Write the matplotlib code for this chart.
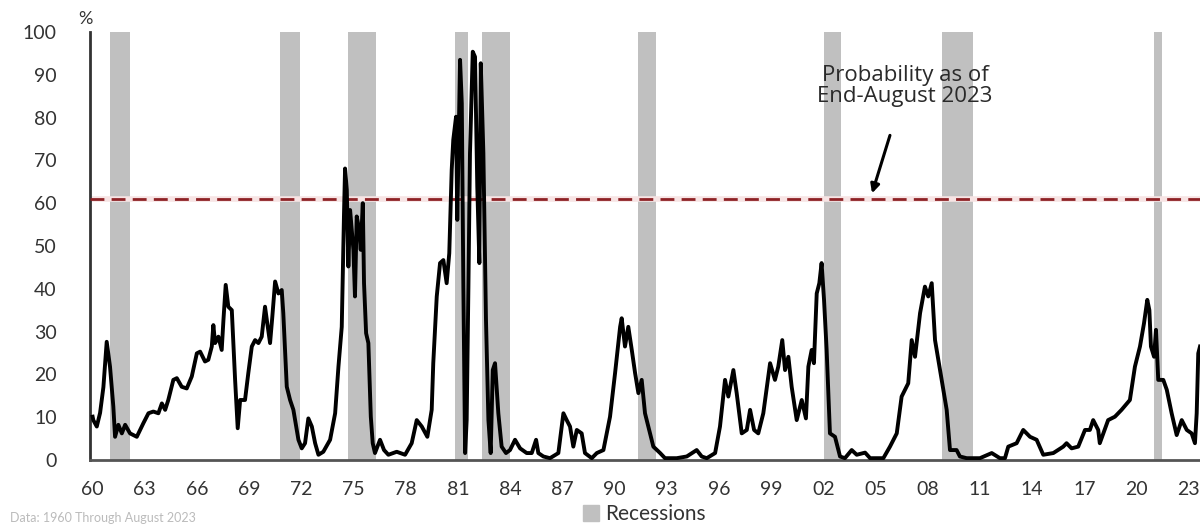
import matplotlib
matplotlib.use("Agg")
import matplotlib.pyplot as plt
from matplotlib.patches import Patch

plt.rcParams['font.family'] = ['Lato', 'DejaVu Sans']

# recession probability (decimal year, %)
years = [1959.0, 1959.04, 1959.24, 1959.43, 1959.62, 1959.81, 1960.0, 1960.19, 1960.29, 1960.48,
         1960.68, 1960.87, 1961.15, 1961.54, 1961.92, 1962.21, 1962.49, 1962.78, 1962.98, 1963.17,
         1963.35, 1963.64, 1963.84, 1964.12, 1964.41, 1964.70, 1964.99, 1965.18, 1965.46, 1965.65,
         1965.85, 1965.94, 1966.04, 1966.23, 1966.42, 1966.52, 1966.65, 1966.80, 1967.0, 1967.19,
         1967.34, 1967.48, 1967.76, 1967.95, 1968.15, 1968.34, 1968.53, 1968.72, 1968.91, 1969.04,
         1969.20, 1969.33, 1969.49, 1969.68, 1969.87, 1969.96, 1970.16, 1970.35, 1970.54, 1970.83,
         1971.02, 1971.21, 1971.40, 1971.60, 1971.79, 1971.98, 1972.26, 1972.65, 1972.94, 1973.13,
         1973.32, 1973.45, 1973.51, 1973.61, 1973.70, 1973.80, 1973.99, 1974.08, 1974.18, 1974.33,
         1974.41, 1974.53, 1974.60, 1974.72, 1974.85, 1974.99, 1975.10, 1975.23, 1975.52, 1975.75,
         1976.0, 1976.48, 1976.96, 1977.34, 1977.63, 1977.92, 1978.24, 1978.49, 1978.58, 1978.78,
         1978.97, 1979.16, 1979.35, 1979.50, 1979.64, 1979.73, 1979.89, 1979.96, 1980.12, 1980.22,
         1980.31, 1980.41, 1980.50, 1980.60, 1980.69, 1980.85, 1980.98, 1981.11, 1981.23, 1981.31,
         1981.46, 1981.61, 1981.75, 1981.88, 1982.0, 1982.13, 1982.32, 1982.51, 1982.76, 1982.99,
         1983.28, 1983.57, 1983.95, 1984.24, 1984.49, 1984.62, 1984.91, 1985.29, 1985.77, 1986.06,
         1986.25, 1986.44, 1986.63, 1986.83, 1987.11, 1987.30, 1987.69, 1987.98, 1988.36, 1988.74,
         1989.03, 1989.32, 1989.41, 1989.60, 1989.79, 1989.99, 1990.18, 1990.37, 1990.56, 1990.75,
         1990.94, 1991.23, 1991.62, 1991.90, 1992.57, 1993.15, 1993.72, 1994.01, 1994.30, 1994.78,
         1995.06, 1995.35, 1995.54, 1995.83, 1996.02, 1996.31, 1996.60, 1996.79, 1997.02, 1997.26,
         1997.55, 1997.94, 1998.22, 1998.41, 1998.64, 1998.80, 1998.99, 1999.18, 1999.47, 1999.76,
         2000.0, 2000.14, 2000.33, 2000.46, 2000.62, 2000.77, 2000.90, 2001.04, 2001.19, 2001.38,
         2001.67, 2001.96, 2002.24, 2002.63, 2002.92, 2003.40, 2003.69, 2004.45, 2004.83, 2005.22,
         2005.50, 2005.88, 2006.08, 2006.27, 2006.56, 2006.84, 2007.03, 2007.23, 2007.42, 2007.61,
         2007.90, 2008.09, 2008.28, 2008.66, 2008.85, 2009.24, 2010.0, 2010.68, 2011.15, 2011.44,
         2011.63, 2012.11, 2012.49, 2012.88, 2013.26, 2013.64, 2014.22, 2014.79, 2014.98, 2015.27,
         2015.65, 2016.04, 2016.32, 2016.51, 2016.80, 2016.89, 2017.37, 2017.76, 2018.14, 2018.62,
         2018.91, 2019.20, 2019.43, 2019.62, 2019.74, 2019.83, 2020.01, 2020.12, 2020.25, 2020.54,
         2020.74, 2021.02, 2021.31, 2021.60, 2021.89, 2022.17, 2022.36, 2022.46, 2022.55, 2022.65]
prob = [10.1, 9.3, 7.8, 11.0, 17.0, 27.6, 21.8, 12.5, 5.4, 8.2,
        6.2, 8.2, 6.2, 5.4, 8.6, 10.9, 11.3, 10.9, 13.2, 11.7,
        14.0, 18.7, 19.1, 17.1, 16.7, 19.5, 24.9, 25.3, 23.0, 23.4,
        26.5, 31.5, 27.3, 28.8, 25.7, 32.7, 40.9, 35.8, 35.0, 18.7,
        7.4, 14.0, 14.0, 20.3, 26.5, 28.0, 27.3, 28.8, 35.8, 31.9,
        27.3, 33.5, 41.7, 38.9, 39.7, 34.3, 17.1, 14.0, 11.7, 4.7,
        2.7, 3.9, 9.7, 7.8, 3.9, 1.2, 1.9, 4.7, 10.9, 21.8,
        31.1, 57.6, 68.1, 63.1, 45.2, 58.4, 49.1, 38.2, 56.9, 53.7,
        49.1, 60.0, 41.3, 29.6, 27.3, 10.1, 3.9, 1.6, 4.7, 2.3,
        1.2, 1.9, 1.2, 3.9, 9.3, 7.8, 5.4, 11.7, 22.6, 38.2,
        46.0, 46.7, 41.3, 48.3, 67.8, 74.8, 80.2, 56.1, 93.5, 83.3,
        40.5, 1.6, 9.3, 40.5, 71.7, 95.4, 94.2, 63.9, 46.0, 92.7,
        71.7, 32.7, 9.3, 1.6, 21.0, 22.6, 10.9, 3.1, 1.6, 2.3,
        4.7, 2.7, 1.6, 1.6, 4.7, 1.6, 0.8, 0.4, 1.6, 10.9,
        9.3, 7.8, 3.1, 7.0, 6.2, 1.6, 0.4, 1.6, 2.3, 10.1,
        20.3, 31.1, 33.1, 26.5, 31.1, 25.7, 20.3, 15.6, 18.7, 10.9,
        7.8, 3.1, 1.6, 0.4, 0.4, 0.8, 2.3, 0.8, 0.4, 1.6,
        7.8, 18.7, 14.8, 21.0, 15.6, 6.2, 7.0, 11.7, 7.0, 6.2,
        10.9, 22.6, 18.7, 21.8, 28.0, 21.0, 24.1, 17.1, 9.3, 14.0,
        9.7, 21.8, 25.7, 22.6, 38.9, 41.3, 46.0, 37.4, 25.7, 6.2,
        5.4, 0.8, 0.4, 2.3, 1.2, 1.7, 0.4, 0.4, 3.1, 6.2,
        14.8, 17.9, 28.0, 24.1, 34.3, 40.5, 38.2, 41.3, 28.0, 23.4,
        16.4, 11.7, 2.3, 2.3, 0.8, 0.4, 0.4, 1.6, 0.4, 0.4,
        3.1, 3.9, 7.0, 5.4, 4.7, 1.2, 1.6, 3.1, 3.9, 2.7,
        3.1, 7.0, 7.0, 9.3, 7.0, 3.9, 9.3, 10.1, 11.7, 14.0,
        21.8, 26.5, 31.9, 37.4, 35.0, 26.5, 24.1, 30.4, 18.7, 18.7,
        16.4, 10.9, 5.8, 9.3, 7.0, 6.2, 3.9, 10.9, 24.9, 26.5]

rec_start = [1960.0, 1969.77, 1973.68, 1979.83, 1981.38, 1990.35, 2001.04, 2007.82, 2019.99]
rec_end = [1961.15, 1970.92, 1975.29, 1980.58, 1982.99, 1991.38, 2002.0, 2009.6, 2020.45]

tick_pos = [1959, 1962, 1965, 1968, 1971, 1974, 1977, 1980, 1983, 1986, 1989,
            1992, 1995, 1998, 2001, 2004, 2007, 2010, 2013, 2016, 2019, 2022]
tick_labels = ['60', '63', '66', '69', '72', '75', '78', '81', '84', '87', '90',
               '93', '96', '99', '02', '05', '08', '11', '14', '17', '20', '23']

current_prob = 61

fig = plt.figure(figsize=(12, 5.25), dpi=100)
ax = fig.add_axes([0.075, 0.124, 0.925, 0.815])

for s, e in zip(rec_start, rec_end):
    ax.axvspan(s, e, color='#c0c0c0', lw=0, zorder=1)

ax.axhline(current_prob, color='#f7e4e4', lw=4, zorder=2)
ax.axhline(current_prob, color='#8e2226', lw=2, ls=(0, (5, 2.6)), zorder=3)
ax.plot(years, prob, color='black', lw=2.8, zorder=4)

ax.set_xlim(1958.85, 2022.65)
ax.set_ylim(0, 100)
ax.set_yticks(range(0, 101, 10))
ax.set_xticks(tick_pos)
ax.set_xticklabels(tick_labels)
ax.tick_params(axis='both', length=0, labelsize=14, colors='#333333')
ax.tick_params(axis='y', pad=24)
ax.tick_params(axis='x', pad=15)

for side in ['top', 'right']:
    ax.spines[side].set_visible(False)
ax.spines['left'].set_color('#333333')
ax.spines['left'].set_linewidth(2)
ax.spines['bottom'].set_color('#555555')
ax.spines['bottom'].set_linewidth(2)

fig.text(0.071, 0.955, '%', fontsize=13, color='#333333', ha='center')

ax.annotate('Probability as of\nEnd-August 2023', xy=(2003.8, 62.3), xytext=(2005.7, 87.3),
            ha='center', va='center', fontsize=16, family=['Open Sans', 'DejaVu Sans'],
            color='#2a2a2a', linespacing=1.0,
            arrowprops=dict(arrowstyle='-|>', color='black', lw=2.2, mutation_scale=13,
                            shrinkA=19, shrinkB=0))

fig.legend(handles=[Patch(color='#c0c0c0', label='Recessions')], loc='center',
           bbox_to_anchor=(0.537, 0.02), frameon=False, fontsize=15, handlelength=0.8,
           handleheight=0.8, handletextpad=0.3, labelcolor='#333333')

fig.text(0.008, 0.005, 'Data: 1960 Through August 2023', fontsize=9, color='#bbbbbb')

fig.savefig('out.png', dpi=100)
